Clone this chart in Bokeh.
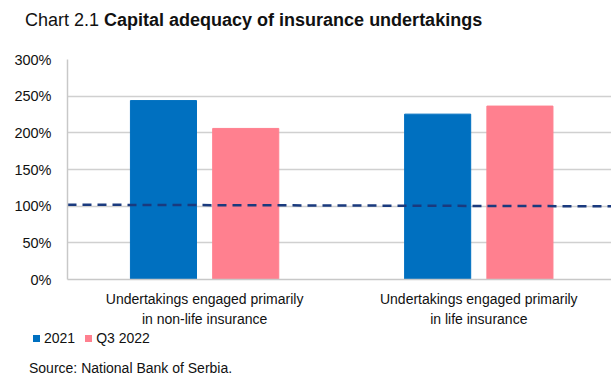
from bokeh.plotting import figure
from bokeh.models import ColumnDataSource, Range1d, FixedTicker, Div
from bokeh.layouts import column
from bokeh.transform import dodge
from bokeh.embed import file_html
from bokeh.resources import INLINE

title_prefix = "Chart 2.1"
title_main = "Capital adequacy of insurance undertakings"
source_text = "Source: National Bank of Serbia."
categories = ["Undertakings engaged primarily\nin non-life insurance",
              "Undertakings engaged primarily\nin life insurance"]
series_names = ["2021", "Q3 2022"]
values_2021 = [244.0, 225.5]
values_q3_2022 = [206.0, 236.5]
threshold_values = [102.0, 99.8]
y_ticks = [0, 50, 100, 150, 200, 250, 300]

FONT = "Liberation Sans"
BLUE = "#0070C0"
PINK = "#FF808F"
TXT = "#111111"
colors = [BLUE, PINK]

cat_x = [i + 0.5 for i in range(len(categories))]
X_END = 1.984  # the plot area is cut at the right edge

title_div = Div(text=f"{title_prefix} <b>{title_main}</b>", width=611, height=36,
                margin=0,
                styles={"font-family": FONT, "font-size": "18px", "line-height": "20px",
                        "padding-left": "25px", "padding-top": "10px", "color": TXT,
                        "box-sizing": "border-box", "white-space": "nowrap"})

p = figure(width=611, height=294, output_backend="svg", toolbar_location=None,
           x_range=Range1d(0, X_END), y_range=Range1d(0, 300),
           min_border_left=67, min_border_right=0, min_border_top=23,
           min_border_bottom=50, margin=0)
p.outline_line_color = None
p.background_fill_color = "white"
p.border_fill_color = "white"

src = ColumnDataSource(dict(x=cat_x, a=values_2021, b=values_q3_2022))
r1 = p.vbar(x=dodge("x", -0.15), top="a", width=0.241, source=src, color=BLUE)
r2 = p.vbar(x=dodge("x", 0.15), top="b", width=0.241, source=src, color=PINK)

p.line(x=[0, X_END], y=threshold_values, line_color="#1A3A7E",
       line_width=2.5, line_dash="9 6")

# axes
p.yaxis.ticker = FixedTicker(ticks=y_ticks)
p.yaxis.major_label_overrides = {t: f"{t}%" for t in y_ticks}
p.yaxis.major_tick_line_color = None
p.yaxis.minor_tick_line_color = None
p.yaxis.axis_line_color = "#C8C8C8"
p.yaxis.axis_line_width = 1.5
p.yaxis.major_label_standoff = 10
p.yaxis.major_label_text_font = FONT
p.yaxis.major_label_text_font_size = "14.5px"
p.yaxis.major_label_text_color = TXT

p.xaxis.ticker = FixedTicker(ticks=cat_x)
p.xaxis.major_label_overrides = {x: c for x, c in zip(cat_x, categories)}
p.xaxis.major_tick_line_color = None
p.xaxis.minor_tick_line_color = None
p.xaxis.axis_line_color = "#C8C8C8"
p.xaxis.axis_line_width = 1.5
p.xaxis.major_label_standoff = 5
p.xaxis.major_label_text_font = FONT
p.xaxis.major_label_text_font_size = "14px"
p.xaxis.major_label_text_line_height = 1.3
p.xaxis.major_label_text_color = TXT

p.xgrid.grid_line_color = None
p.ygrid.grid_line_color = "#D0D0D0"
p.ygrid.grid_line_width = 1.5

sq = ('<span style="display:inline-block;width:7px;height:7px;background:{c};'
      'margin-right:4px;vertical-align:1px"></span>')
legend_html = "".join(
    f'<span style="margin-right:10px">{sq.format(c=c)}{name}</span>'
    for name, c in zip(series_names, colors))
bottom_html = (f'<div style="padding-left:33px;line-height:16px;font-size:14px">{legend_html}</div>'
               f'<div style="padding-left:29px;padding-top:14px;line-height:16px;font-size:14px">{source_text}</div>')

bottom_div = Div(text=bottom_html, width=611, height=46, margin=0,
                 styles={"font-family": FONT, "color": TXT, "padding-top": "0px",
                         "box-sizing": "border-box", "white-space": "nowrap"})

layout = column(title_div, p, bottom_div, spacing=0)
open("out.html", "w").write(file_html(layout, INLINE))
